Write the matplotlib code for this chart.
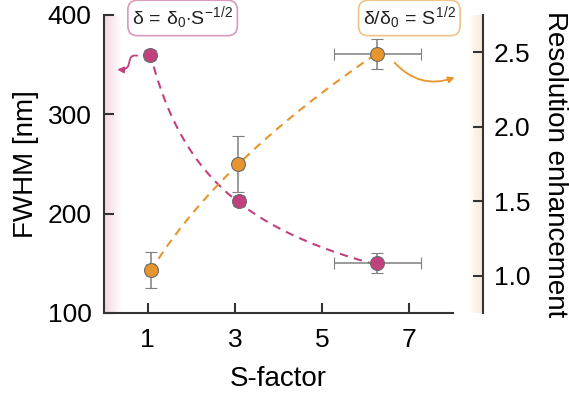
import numpy as np
import matplotlib
matplotlib.use("Agg")
import matplotlib.pyplot as plt
from matplotlib.patches import FancyArrowPatch
from matplotlib.path import Path

plt.rcParams.update({"font.family": "Liberation Sans", "mathtext.fontset": "custom",
                     "mathtext.rm": "Liberation Sans", "mathtext.it": "Liberation Sans",
                     "mathtext.bf": "Liberation Sans"})

# ---- data ---------------------------------------------------------------- #
s_fwhm = [1.05, 3.1, 6.27]
fwhm = [360, 213, 150]
fwhm_xerr = [0.1, 0.1, 1.0]
fwhm_yerr = [5, 5, 10]

s_res = [1.07, 3.08, 6.27]
res = [1.04, 1.75, 2.49]
res_xerr = [0.1, 0.1, 1.0]
res_yerr = [0.12, 0.19, 0.10]

x_ticks = [1, 3, 5, 7]
left_ticks = [100, 200, 300, 400]
right_ticks = [1.0, 1.5, 2.0, 2.5]

MAG = "#c2407e"
ORA = "#e8952e"
SPINE = "#333333"
ERR = "#7f7f7f"

fig = plt.figure(figsize=(5.69, 3.94), dpi=100)
L, B, W, H = 0.183, 0.206, 0.613, 0.756

# soft colour glow next to the two y axes
grad = np.linspace(1, 0, 64)[None, :]
g1 = fig.add_axes([L, B, 0.03, H], zorder=0)
g1.imshow(grad, aspect="auto", cmap=matplotlib.colors.LinearSegmentedColormap.from_list(
    "p", ["#ffffff", "#f2d6e3"]), extent=[0, 1, 0, 1])
g1.axis("off")
g2 = fig.add_axes([0.822, B, 0.027, H], zorder=0)
g2.imshow(grad[:, ::-1], aspect="auto", cmap=matplotlib.colors.LinearSegmentedColormap.from_list(
    "o", ["#ffffff", "#f9e8d2"]), extent=[0, 1, 0, 1])
g2.axis("off")

ax = fig.add_axes([L, B, W, H], zorder=2)
ax.patch.set_alpha(0)
ax2 = ax.twinx()
ax2.patch.set_alpha(0)

# fits: FWHM ~ c / sqrt(S), enhancement ~ a * sqrt(S)
sf = np.array(s_fwhm); yf = np.array(fwhm)
c = np.sum(yf / np.sqrt(sf)) / np.sum(1 / sf)
xx = np.linspace(sf[0], sf[-1], 100)
ax.plot(xx, c / np.sqrt(xx), ls=(0, (4, 3)), color=MAG, lw=1.5, zorder=1)

sr = np.array(s_res); yr = np.array(res)
a = np.sum(yr * np.sqrt(sr)) / np.sum(sr)
xr = np.linspace(sr[0], sr[-1], 100)
ax2.plot(xr, a * np.sqrt(xr), ls=(0, (4, 3)), color=ORA, lw=1.5, zorder=1)

ax.errorbar(s_fwhm, fwhm, xerr=fwhm_xerr, yerr=fwhm_yerr, fmt="o", ms=10,
            mfc=MAG, mec="#6b6b6b", mew=0.8, ecolor=ERR, elinewidth=1.1,
            capsize=4, capthick=1.1, zorder=3)
ax2.errorbar(s_res, res, xerr=res_xerr, yerr=res_yerr, fmt="o", ms=10,
             mfc=ORA, mec="#6b6b6b", mew=0.8, ecolor=ERR, elinewidth=1.1,
             capsize=4, capthick=1.1, zorder=3)

ax.set_xlim(0, 8)
ax.set_ylim(100, 400)
ax2.set_ylim(0.75, 2.75)
ax.set_xticks(x_ticks)
ax.set_yticks(left_ticks)
ax2.set_yticks(right_ticks)
ax2.set_yticklabels([f"{t:.1f}" for t in right_ticks])

for s in ("top", "right"):
    ax.spines[s].set_visible(False)
for s in ("top", "left", "bottom"):
    ax2.spines[s].set_visible(False)
ax2.spines["right"].set_position(("outward", 21.6))
for sp in (ax.spines["left"], ax.spines["bottom"], ax2.spines["right"]):
    sp.set_color(SPINE)
    sp.set_linewidth(1.5)

ax.tick_params(direction="in", length=7, width=1.5, color=SPINE, labelsize=19, pad=9)
ax.tick_params(axis="x", pad=11)
ax2.tick_params(direction="in", length=7, width=1.5, color=SPINE, labelsize=19, pad=8)

ax.set_xlabel("S-factor", fontsize=20, labelpad=10)
ax.set_ylabel("FWHM [nm]", fontsize=20, labelpad=6)
ax2.set_ylabel("Resolution enhancement", fontsize=20, rotation=270, labelpad=27)

# formula boxes
ax.text(1.8, 397, r"$\delta\,=\,\delta_0{\cdot}S^{-1/2}$", fontsize=14, ha="center",
        va="center", color="#222222", zorder=5,
        bbox=dict(boxstyle="round,pad=0.22,rounding_size=0.5", fc="white",
                  ec="#d99abb", lw=1.2))
ax.text(7.0, 397, r"$\delta/\delta_0\,=\,S^{1/2}$", fontsize=14, ha="center",
        va="center", color="#222222", zorder=5, clip_on=False,
        bbox=dict(boxstyle="round,pad=0.22,rounding_size=0.5", fc="white",
                  ec="#f0c38a", lw=1.2))

# squiggle arrow from the first FWHM point towards the left axis
squiggle = Path([(0.76, 359), (0.45, 361), (0.72, 344), (0.30, 345)],
                [Path.MOVETO, Path.CURVE4, Path.CURVE4, Path.CURVE4])
ax.add_patch(FancyArrowPatch(path=squiggle, arrowstyle="-|>", mutation_scale=9,
                             color=MAG, lw=1.3, zorder=4))

# curved arrow from the last enhancement point towards the right axis
ax.annotate("", xy=(8.1, 338), xytext=(6.62, 354), annotation_clip=False,
            arrowprops=dict(arrowstyle="-|>", color=ORA, lw=1.3, mutation_scale=9,
                            connectionstyle="arc3,rad=0.35"))

fig.savefig("out.png", dpi=100)
